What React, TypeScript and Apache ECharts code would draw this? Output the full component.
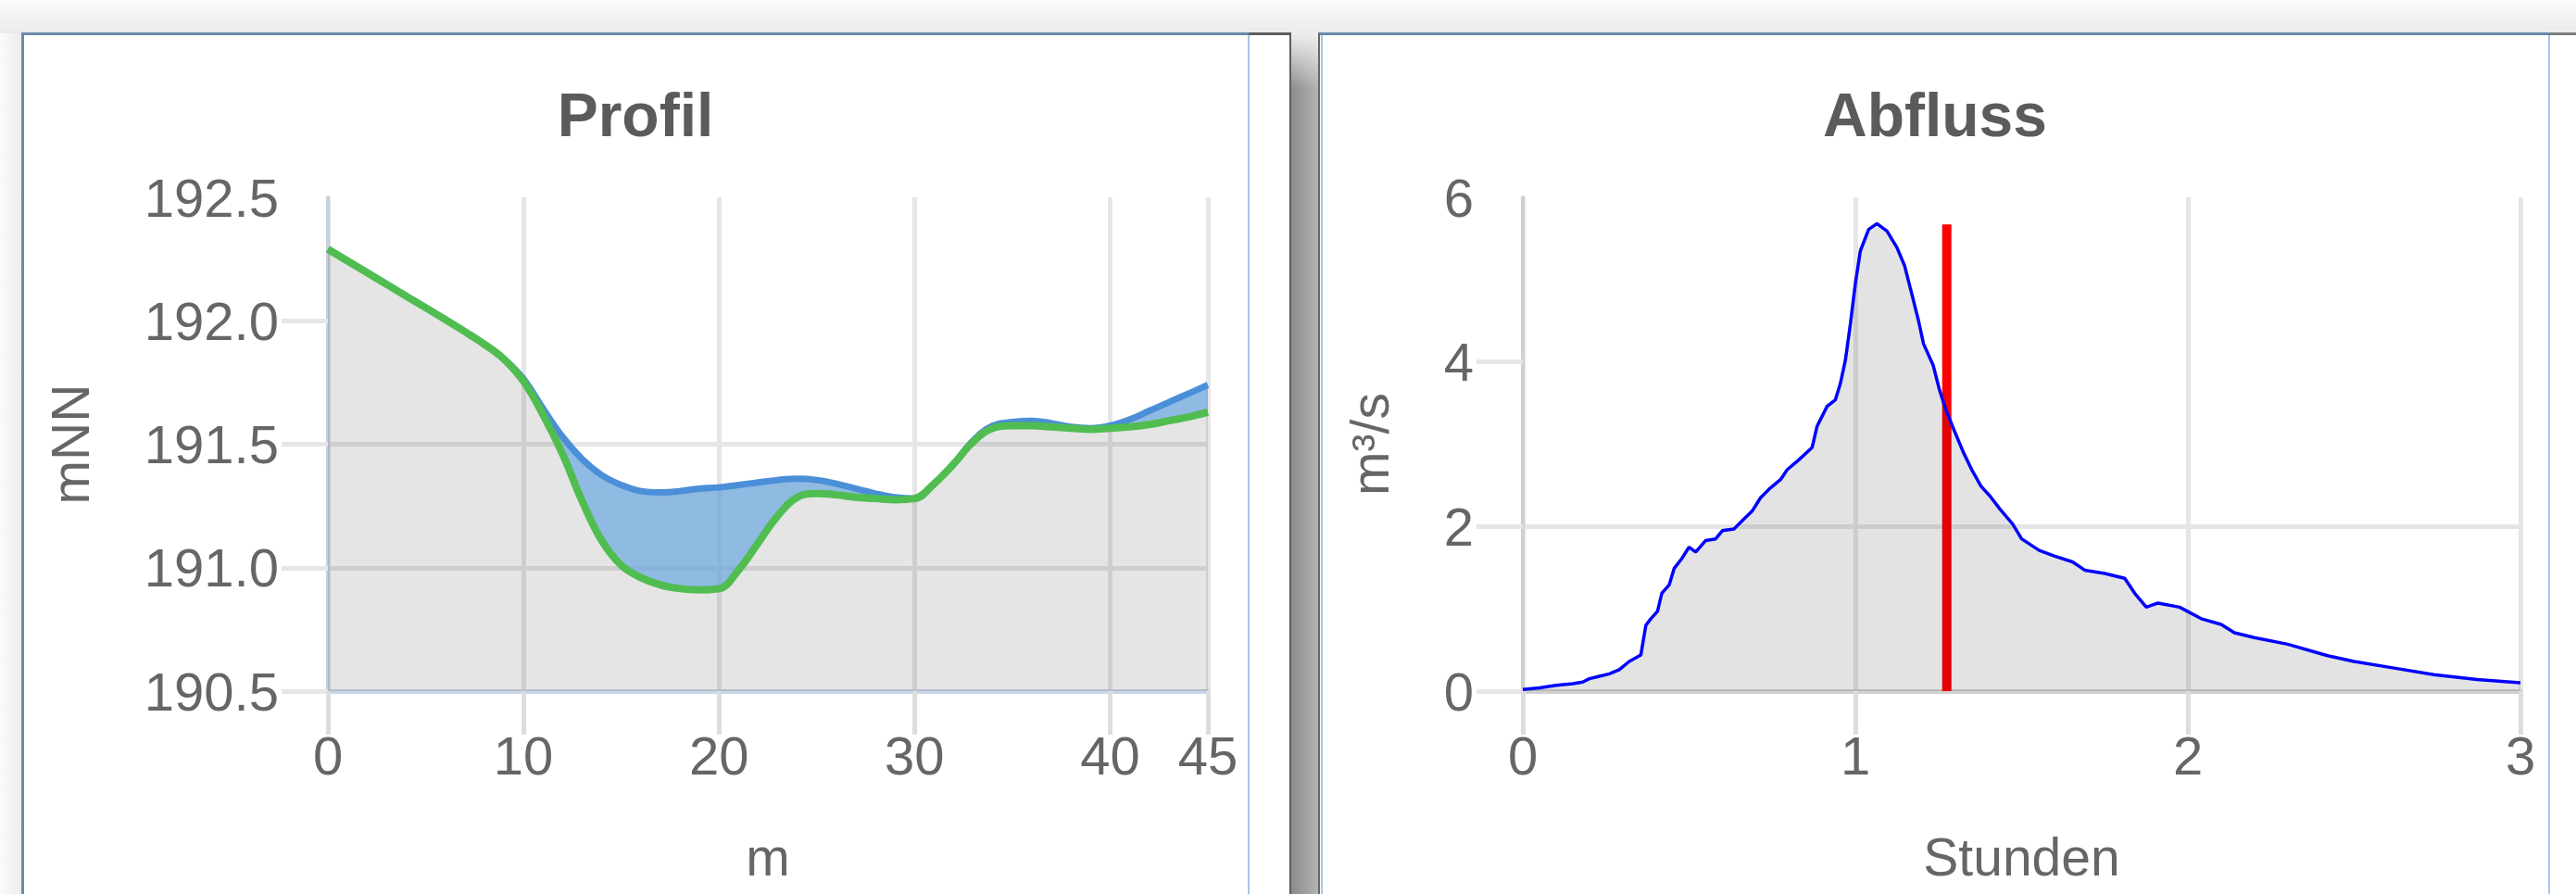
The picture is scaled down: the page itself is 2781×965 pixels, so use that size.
import React, { useEffect, useRef } from "react";
import * as echarts from "echarts";

// ---------- Data: Profil ----------
const profileX = [0, 2, 4, 6, 8, 9, 10, 11, 12, 13, 14, 15, 16, 17, 18, 19, 20, 21, 22, 23, 24, 25, 26, 27, 28, 29, 30, 31, 32, 33, 34, 35, 36, 37, 38, 39, 40, 41, 42, 43, 44, 45];
const groundZ = [192.29, 192.195, 192.1, 192.005, 191.905, 191.845, 191.755, 191.62, 191.46, 191.27, 191.11, 191.01, 190.96, 190.93, 190.915, 190.91, 190.915, 190.99, 191.1, 191.21, 191.285, 191.3, 191.295, 191.285, 191.28, 191.275, 191.28, 191.34, 191.42, 191.51, 191.565, 191.575, 191.575, 191.57, 191.565, 191.56, 191.565, 191.57, 191.58, 191.595, 191.61, 191.63];
const waterZ = [192.29, 192.195, 192.1, 192.005, 191.905, 191.845, 191.765, 191.645, 191.53, 191.44, 191.375, 191.335, 191.31, 191.305, 191.31, 191.32, 191.325, 191.335, 191.345, 191.355, 191.36, 191.355, 191.34, 191.32, 191.3, 191.285, 191.28, 191.34, 191.42, 191.515, 191.575, 191.59, 191.595, 191.585, 191.57, 191.565, 191.575, 191.6, 191.635, 191.67, 191.705, 191.74];
const profileXRange = [0, 45, 10];
const profileYRange = [190.5, 192.5, 0.5];
const profileYTicks = [190.5, 191, 191.5, 192];

// ---------- Data: Abfluss ----------
const hours = [0, 0.05, 0.1, 0.15, 0.18, 0.2, 0.23, 0.26, 0.29, 0.32, 0.355, 0.37, 0.385, 0.405, 0.418, 0.44, 0.455, 0.478, 0.5, 0.52, 0.55, 0.58, 0.6, 0.635, 0.66, 0.69, 0.715, 0.745, 0.775, 0.795, 0.83, 0.87, 0.885, 0.915, 0.94, 0.955, 0.97, 0.985, 1.0, 1.015, 1.04, 1.065, 1.095, 1.125, 1.148, 1.167, 1.19, 1.205, 1.234, 1.253, 1.272, 1.296, 1.325, 1.35, 1.378, 1.405, 1.435, 1.473, 1.5, 1.553, 1.6, 1.653, 1.69, 1.75, 1.81, 1.84, 1.875, 1.91, 1.975, 2.04, 2.1, 2.14, 2.2, 2.3, 2.42, 2.5, 2.62, 2.74, 2.87, 3.0];
const discharge = [0.02, 0.04, 0.07, 0.09, 0.11, 0.15, 0.18, 0.21, 0.26, 0.36, 0.44, 0.8, 0.88, 0.97, 1.19, 1.29, 1.49, 1.61, 1.75, 1.69, 1.83, 1.85, 1.95, 1.97, 2.07, 2.19, 2.35, 2.47, 2.57, 2.69, 2.81, 2.96, 3.22, 3.46, 3.54, 3.74, 4.02, 4.46, 4.95, 5.35, 5.61, 5.68, 5.59, 5.39, 5.17, 4.87, 4.5, 4.22, 3.96, 3.66, 3.42, 3.18, 2.9, 2.69, 2.49, 2.37, 2.21, 2.03, 1.85, 1.71, 1.64, 1.57, 1.47, 1.43, 1.37, 1.19, 1.02, 1.07, 1.02, 0.88, 0.81, 0.71, 0.65, 0.57, 0.43, 0.36, 0.28, 0.2, 0.14, 0.1];
const markerHour = 1.275;
const markerTop = 5.67;
const flowXRange = [0, 3, 1];
const flowYRange = [0, 6, 2];
const flowYTicks = [0, 2, 4];

const FONT = "'Liberation Sans', Arial, Helvetica, sans-serif";

function Box(props: { s: React.CSSProperties }) {
  return <div style={{ position: "absolute", ...props.s }} />;
}

export default function App() {
  const ref = useRef<HTMLDivElement>(null);

  useEffect(() => {
    document.body.style.margin = "0";
    if (!ref.current) return;
    const chart = echarts.init(ref.current, undefined, { renderer: "svg" });

    const labelBase = { fontFamily: FONT, fontSize: 58, color: "#666666" };
    const nameBase = { fontFamily: FONT, fontSize: 57, color: "#666666" };
    const grid = { color: "#e6e6e6", width: 5 };

    const xAxisCommon = (range: number[], name: string, gridIndex: number, lineColor: string) => ({
      gridIndex,
      type: "value",
      min: range[0],
      max: range[1],
      interval: range[2],
      name,
      nameLocation: "middle",
      nameGap: 150,
      nameTextStyle: { ...nameBase, lineHeight: 58 },
      axisLine: { show: true, onZero: false, lineStyle: { color: lineColor, width: 5 } },
      axisTick: { show: true, length: 47, lineStyle: { color: "#dddddd", width: 5 } },
      axisLabel: { ...labelBase, margin: 40, lineHeight: 58 },
      splitLine: { show: true, lineStyle: grid },
    });

    const yAxisCommon = (range: number[], name: string, gridIndex: number, lineColor: string, gap: number, ticks: number[], fmt: (v: number) => string) => ({
      gridIndex,
      type: "value",
      min: range[0],
      max: range[1],
      interval: range[2],
      name,
      nameLocation: "middle",
      nameGap: gap,
      nameTextStyle: { ...nameBase, lineHeight: 58 },
      axisLine: { show: true, onZero: false, lineStyle: { color: lineColor, width: 4 } },
      axisTick: { show: true, length: 50, customValues: ticks, lineStyle: { color: "#e6e6e6", width: 5 } },
      axisLabel: { ...labelBase, margin: 53, formatter: fmt, padding: [0, 0, 16, 0] },
      splitLine: { show: true, showMaxLine: false, lineStyle: grid },
    });

    // value first, position second, so that stacking acts on the elevation dimension
    const groundStack = profileX.map((x, i) => [groundZ[i], x]);
    const depthStack = profileX.map((x, i) => [+(waterZ[i] - groundZ[i]).toFixed(4), x]);
    const groundPairs = profileX.map((x, i) => [x, groundZ[i]]);
    const flowPairs = hours.map((t, i) => [t, discharge[i]]);

    const titleStyle = (text: string) => ({
      text,
      font: `bold 66px ${FONT}`,
      fill: "#5b5b5b",
      align: "center",
      verticalAlign: "middle",
      textAlign: "center",
      textVerticalAlign: "middle",
    });

    chart.setOption({
      animation: false,
      backgroundColor: "transparent",
      tooltip: { show: false },
      graphic: [
        { type: "text", x: 686, y: 124, silent: true, style: titleStyle("Profil") },
        { type: "text", x: 2089, y: 124, silent: true, style: titleStyle("Abfluss") },
      ],
      grid: [
        { left: 354, top: 213, width: 950, height: 533, containLabel: false },
        { left: 1644, top: 213, width: 1077, height: 533, containLabel: false },
      ],
      xAxis: [
        xAxisCommon(profileXRange, "m", 0, "#c9d5e6"),
        xAxisCommon(flowXRange, "Stunden", 1, "#d0d0d0"),
      ],
      yAxis: [
        yAxisCommon(profileYRange, "mNN", 0, "#c3d0de", 249, profileYTicks, (v: number) => v.toFixed(1)),
        yAxisCommon(flowYRange, "m³/s", 1, "#d0d0d0", 136, flowYTicks, (v: number) => String(v)),
      ],
      series: [
        {
          type: "line",
          xAxisIndex: 0,
          yAxisIndex: 0,
          stack: "profil",
          encode: { x: 1, y: 0 },
          data: groundStack,
          smooth: 0.4,
          symbol: "none",
          lineStyle: { width: 0, opacity: 0 },
          areaStyle: { color: "rgba(0,0,0,0.1)", opacity: 1, origin: "start" },
          z: 2,
        },
        {
          type: "line",
          xAxisIndex: 0,
          yAxisIndex: 0,
          stack: "profil",
          encode: { x: 1, y: 0 },
          data: depthStack,
          smooth: 0.4,
          symbol: "none",
          lineStyle: { color: "#4a8fd8", width: 7 },
          areaStyle: { color: "rgba(100,160,215,0.72)", opacity: 1 },
          z: 3,
        },
        {
          type: "line",
          xAxisIndex: 0,
          yAxisIndex: 0,
          data: groundPairs,
          smooth: 0.4,
          symbol: "none",
          lineStyle: { color: "#50bd50", width: 8 },
          z: 4,
        },
        {
          type: "line",
          xAxisIndex: 1,
          yAxisIndex: 1,
          data: [
            [markerHour, 0],
            [markerHour, markerTop],
          ],
          symbol: "none",
          lineStyle: { color: "#ff0000", width: 10, cap: "butt" },
          z: 2,
        },
        {
          type: "line",
          xAxisIndex: 1,
          yAxisIndex: 1,
          data: flowPairs,
          symbol: "none",
          lineStyle: { color: "#0000ff", width: 3.5 },
          areaStyle: { color: "rgba(0,0,0,0.11)", opacity: 1, origin: "start" },
          z: 3,
        },
      ],
    });

    return () => chart.dispose();
  }, []);

  const steel = "#6a89ad";
  const lightBlue = "#a6c6e8";

  return (
    <div style={{ position: "fixed", left: 0, top: 0, width: 2781, height: 965, overflow: "hidden", background: "#f3f3f3" }}>
      <Box s={{ left: 0, top: 0, width: 2781, height: 36, background: "linear-gradient(to bottom, #fbfbfb, #ebebeb)" }} />
      <Box s={{ left: 0, top: 36, width: 24, height: 929, background: "linear-gradient(to right, #fbfbfb, #ebebeb)" }} />
      {/* left panel */}
      <Box s={{ left: 24, top: 36, width: 1370, height: 929, background: "#ffffff" }} />
      <Box s={{ left: 23, top: 35, width: 1325, height: 3, background: steel }} />
      <Box s={{ left: 1348, top: 35, width: 46, height: 3, background: "#5e5e5e" }} />
      <Box s={{ left: 23, top: 35, width: 3, height: 930, background: steel }} />
      <Box s={{ left: 1347, top: 38, width: 2, height: 927, background: lightBlue }} />
      <Box s={{ left: 1392, top: 36, width: 2, height: 929, background: "#5e5e5e" }} />
      {/* gap shadow */}
      <Box s={{ left: 1394, top: 36, width: 29, height: 929, background: "linear-gradient(to right, #8c8c8c, #9d9d9d 45%, #b3b3b3)" }} />
      <Box s={{ left: 1394, top: 36, width: 29, height: 60, background: "linear-gradient(to bottom, #efefef, rgba(239,239,239,0))" }} />
      {/* right panel */}
      <Box s={{ left: 1423, top: 36, width: 1358, height: 929, background: "#ffffff" }} />
      <Box s={{ left: 1423, top: 35, width: 1329, height: 3, background: steel }} />
      <Box s={{ left: 2752, top: 35, width: 29, height: 3, background: "#7d7d7d" }} />
      <Box s={{ left: 1423, top: 36, width: 2, height: 929, background: "#666666" }} />
      <Box s={{ left: 1426, top: 38, width: 2, height: 927, background: lightBlue }} />
      <Box s={{ left: 2751, top: 38, width: 2, height: 927, background: lightBlue }} />
      <div ref={ref} style={{ position: "absolute", left: 0, top: 0, width: 2781, height: 965 }} />
    </div>
  );
}
